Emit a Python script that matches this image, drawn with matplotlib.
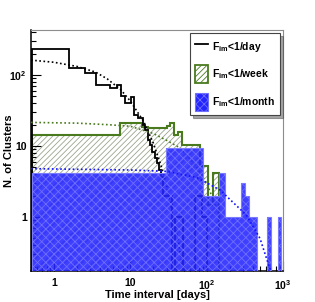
import numpy as np
import matplotlib
matplotlib.use("Agg")
import matplotlib.pyplot as plt
from matplotlib.lines import Line2D
from matplotlib.patches import Patch

plt.rcParams['font.family'] = ['Liberation Sans', 'DejaVu Sans']
plt.rcParams['font.weight'] = 'bold'
plt.rcParams['mathtext.default'] = 'bf'
plt.rcParams['mathtext.fontset'] = 'custom'
plt.rcParams['mathtext.bf'] = 'Liberation Sans:bold'
plt.rcParams['mathtext.rm'] = 'Liberation Sans:bold'
plt.rcParams['hatch.linewidth'] = 0.6

# F_im < 1/day histogram (bin edges in days, counts)
day_edges = [0.52, 1.57, 2.53, 3.51, 5.50, 6.78, 7.64, 8.61, 10.3, 11.3, 12.7, 14.8,
             15.7, 17.1, 18.2, 19.3, 21.1, 22.4, 23.8, 25.3, 26.8, 35.1, 38.4, 48.8,
             69.8, 86.1, 100]
day_counts = [230, 127, 108, 72, 65, 72, 50, 40, 49, 27, 25, 20,
              17, 12, 10.3, 8.2, 6.8, 5.8, 4.6, 3.7, 2.0, 0.001, 1.0, 0.001,
              2.0, 1.0]

# F_im < 1/week histogram
week_edges = [0.52, 7.41, 14.3, 17.1, 30.3, 33.1, 37.3, 42.0, 47.3, 81.1, 88.7, 103, 120, 147]
week_counts = [14.3, 21, 18.5, 17.9, 19.1, 21, 14.3, 15.8, 10.3, 5.2, 5.2, 1.5, 4.2]

# F_im < 1/month histogram
month_edges = [0.52, 29.3, 88.7, 147, 176, 285, 321, 362, 459, 620, 698, 861, 942]
month_counts = [4.2, 9.4, 2.0, 4.2, 1.0, 3.0, 2.0, 1.0, 0.001, 1.0, 0.001, 1.0]

# fitted curves
fit_day_t = [0.5, 1, 2, 3.5, 5, 7.5, 10, 15, 20, 25, 30, 40, 50]
fit_day_v = [162, 151, 132, 110, 88, 62, 43, 22, 11, 5.5, 2.7, 0.67, 0.16]
fit_week_t = [0.5, 2, 5, 10, 20, 30, 45, 70, 100, 150]
fit_week_v = [21.5, 21, 20, 19, 15, 12, 9.4, 5.5, 3, 1]
fit_month_t = [0.5, 10, 30, 74, 150, 330, 500, 660, 800]
fit_month_v = [4.8, 4.6, 4.4, 3.6, 2.4, 1.07, 0.5, 0.2, 0.12]

green = '#4a7a1e'
blue = '#2424ff'
base = 1e-3

fig = plt.figure(figsize=(3.15, 3.02), dpi=100)
ax = fig.add_axes([31/315, 1-271/302, 252/315, 241/302])
ax.set_xscale('log')
ax.set_yscale('log')

# week: hatched
ax.stairs(week_counts, week_edges, baseline=base, fill=True, facecolor='white',
          edgecolor='#9aa58e', hatch='//////', linewidth=0, zorder=1)
ax.stairs(week_counts, week_edges, baseline=base, color=green, linewidth=1.5, zorder=2)

# day
ax.stairs(day_counts, day_edges, baseline=base, color='black', linewidth=1.3, zorder=3)
ax.plot(fit_day_t, fit_day_v, color='black', linestyle=(0, (1, 1.5)), linewidth=1.2, zorder=3)
ax.plot(fit_week_t, fit_week_v, color=green, linestyle=(0, (1, 1.5)), linewidth=1.2, zorder=3)

# month: blue pattern
ax.stairs(month_counts, month_edges, baseline=base, fill=True, facecolor=blue,
          alpha=0.88, linewidth=0, zorder=4)
ax.stairs(month_counts, month_edges, baseline=base, fill=True, facecolor='none',
          edgecolor='#7070ff', hatch='xxxx', linewidth=0, zorder=4)
ax.stairs(month_counts, month_edges, baseline=base, color='#7a7aff', linewidth=0.8, zorder=4)
ax.plot(fit_month_t, fit_month_v, color='#1010ff', linestyle=(0, (1, 1.5)), linewidth=1.2, zorder=5)

ax.set_xlim(0.5, 1000)
ax.set_ylim(0.174, 430)

ax.set_xticks([1, 10, 100, 1000], labels=['1', '10', r'$10^{2}$', r'$10^{3}$'])
ax.set_yticks([1, 10, 100], labels=['1', '10', r'$10^{2}$'])
ax.tick_params(which='both', direction='in', top=False, right=False, labelsize=7.5)
ax.tick_params(which='major', length=7, width=0.8)
ax.tick_params(which='minor', length=3.5, width=0.8)
ax.tick_params(axis='x', pad=5)
ax.tick_params(axis='y', pad=3)

for s in ['top', 'right']:
    ax.spines[s].set_color('#8c8c8c')
for s in ['left', 'bottom']:
    ax.spines[s].set_color('black')
    ax.spines[s].set_linewidth(1.1)

ax.set_xlabel('Time interval [days]', fontsize=8, fontweight='bold')
ax.xaxis.set_label_coords(0.5, -0.08)
ax.set_ylabel('N. of Clusters', fontsize=8, fontweight='bold')
ax.yaxis.set_label_coords(-0.068, 0.5)

handles = [Line2D([], [], color='black', linewidth=1.3),
           Patch(facecolor='white', edgecolor=green, hatch='//////', linewidth=1.3),
           Patch(facecolor=blue, edgecolor='#7070ff', hatch='xxxx', linewidth=0.8)]
labels = [r'F$_{\rm im}$<1/day', r'F$_{\rm im}$<1/week', r'F$_{\rm im}$<1/month']
leg = ax.legend(handles, labels, loc='upper right', bbox_to_anchor=(0.988, 0.988),
                borderaxespad=0, fontsize=7.5, frameon=True, fancybox=False, shadow=True,
                handlelength=1.3, handleheight=2.3, labelspacing=0.9, handletextpad=0.4,
                borderpad=0.45)
leg.get_frame().set_edgecolor('#444444')
leg.get_frame().set_linewidth(0.8)
leg.set_zorder(10)

fig.savefig('out.png', dpi=100)
